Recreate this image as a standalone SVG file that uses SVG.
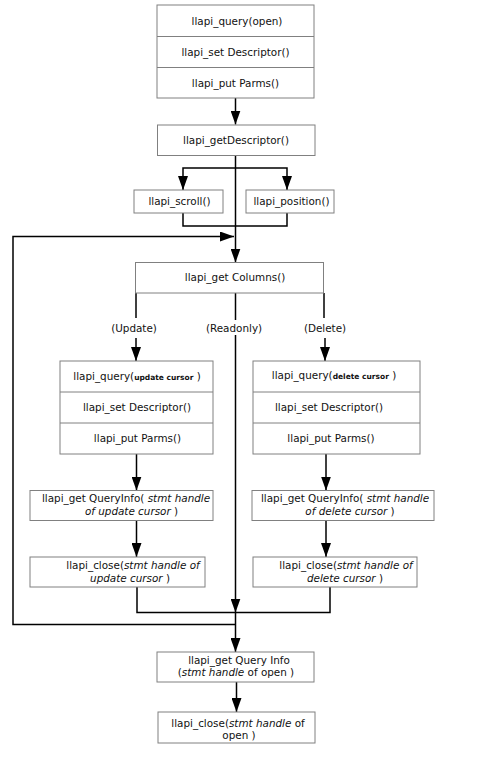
<svg xmlns="http://www.w3.org/2000/svg" width="480" height="761" viewBox="0 0 480 761">
<style>
.box{fill:#fff;stroke:#808080;stroke-width:1}
.div{stroke:#808080;stroke-width:1}
.t{font-family:"DejaVu Sans",sans-serif;font-size:10.4px;fill:#111;text-anchor:middle}
.it{font-style:italic}
.sm{font-size:7.5px;font-weight:bold}
.c{fill:none;stroke:#000;stroke-width:1.5}
</style>
<defs>
<marker id="ah" markerUnits="userSpaceOnUse" markerWidth="14" markerHeight="10" refX="14" refY="5" orient="auto" viewBox="0 0 14 10">
<path d="M0,0 L14,5 L0,10 z" fill="#000"/>
</marker>
</defs>
<rect width="480" height="761" fill="#fff"/>
<g id="connectors">
<path class="c" d="M235.5,98 V124.5" marker-end="url(#ah)"/>
<path class="c" d="M235.5,155.5 V262.5" marker-end="url(#ah)"/>
<path class="c" d="M235.5,168 H183 V190" marker-end="url(#ah)"/>
<path class="c" d="M235.5,168 H287 V190" marker-end="url(#ah)"/>
<path class="c" d="M183,213 V226 H287 V213"/>
<path class="c" d="M235.5,624.5 H13 V236.5 H234" marker-end="url(#ah)"/>
<path class="c" d="M136,293 V318"/>
<path class="c" d="M136,338 V361" marker-end="url(#ah)"/>
<path class="c" d="M235.5,293 V320"/>
<path class="c" d="M235.5,335 V612.5" marker-end="url(#ah)"/>
<path class="c" d="M324,293 V318"/>
<path class="c" d="M325,338 V361" marker-end="url(#ah)"/>
<path class="c" d="M136.5,454 V490.5" marker-end="url(#ah)"/>
<path class="c" d="M136.5,520 V557" marker-end="url(#ah)"/>
<path class="c" d="M326,454 V490.5" marker-end="url(#ah)"/>
<path class="c" d="M326,520 V557" marker-end="url(#ah)"/>
<path class="c" d="M137,587 V612.5 H330 V587"/>
<path class="c" d="M235.5,612.5 V652" marker-end="url(#ah)"/>
<path class="c" d="M236.5,682 V712" marker-end="url(#ah)"/>
</g>
<g id="open-query">
<rect class="box" x="157" y="5" width="157" height="93"/>
<line class="div" x1="157" y1="36.5" x2="314" y2="36.5"/>
<line class="div" x1="157" y1="67.5" x2="314" y2="67.5"/>
<text class="t" x="237" y="24.5">llapi_query(open)</text>
<text class="t" x="235.5" y="55.5">llapi_set Descriptor()</text>
<text class="t" x="235.5" y="86.5">llapi_put Parms()</text>
</g>
<g id="getDescriptor">
<rect class="box" x="157.5" y="125" width="157.5" height="30.5"/>
<text class="t" x="236" y="143.5">llapi_getDescriptor()</text>
</g>
<g id="scroll">
<rect class="box" x="134" y="190" width="89" height="23"/>
<text class="t" x="179.5" y="204.5">llapi_scroll()</text>
</g>
<g id="position">
<rect class="box" x="246" y="190" width="88" height="23"/>
<text class="t" x="291.5" y="204.5">llapi_position()</text>
</g>
<g id="getColumns">
<rect class="box" x="135.5" y="262.5" width="188" height="30.5"/>
<text class="t" x="235" y="280.5">llapi_get Columns()</text>
</g>
<g id="labels">
<text class="t" x="134" y="331.5">(Update)</text>
<text class="t" x="234" y="331.5">(Readonly)</text>
<text class="t" x="325" y="331.5">(Delete)</text>
</g>
<g id="update-query">
<rect class="box" x="60" y="361" width="153" height="93"/>
<line class="div" x1="60" y1="392" x2="213" y2="392"/>
<line class="div" x1="60" y1="423" x2="213" y2="423"/>
<text class="t" x="137" y="380">llapi_query(<tspan class="sm">update cursor</tspan> )</text>
<text class="t" x="137" y="411">llapi_set Descriptor()</text>
<text class="t" x="137.5" y="442">llapi_put Parms()</text>
</g>
<g id="update-info">
<rect class="box" x="30" y="490.5" width="183" height="30"/>
<text class="t" x="126" y="502">llapi_get QueryInfo( <tspan class="it">stmt handle</tspan></text>
<text class="t it" x="131.5" y="515">of update cursor<tspan font-style="normal"> )</tspan></text>
</g>
<g id="update-close">
<rect class="box" x="30" y="557" width="175" height="30"/>
<text class="t" x="133" y="568.5">llapi_close(<tspan class="it">stmt handle of</tspan></text>
<text class="t it" x="130" y="581.5">update cursor<tspan font-style="normal"> )</tspan></text>
</g>
<g id="delete-query">
<rect class="box" x="253" y="361" width="167" height="93"/>
<line class="div" x1="253" y1="392" x2="420" y2="392"/>
<line class="div" x1="253" y1="423" x2="420" y2="423"/>
<text class="t" x="334" y="379">llapi_query(<tspan class="sm">delete cursor</tspan> )</text>
<text class="t" x="329" y="411">llapi_set Descriptor()</text>
<text class="t" x="331" y="442">llapi_put Parms()</text>
</g>
<g id="delete-info">
<rect class="box" x="252" y="490.5" width="182" height="30"/>
<text class="t" x="345" y="502">llapi_get QueryInfo( <tspan class="it">stmt handle</tspan></text>
<text class="t it" x="350" y="515">of delete cursor<tspan font-style="normal"> )</tspan></text>
</g>
<g id="delete-close">
<rect class="box" x="253" y="557" width="164" height="30"/>
<text class="t" x="346" y="568.5">llapi_close(<tspan class="it">stmt handle of</tspan></text>
<text class="t it" x="345" y="581.5">delete cursor<tspan font-style="normal"> )</tspan></text>
</g>
<g id="open-info">
<rect class="box" x="157" y="652" width="157" height="30"/>
<text class="t" x="239" y="663.5">llapi_get Query Info</text>
<text class="t" x="236" y="675.5">(<tspan class="it">stmt handle</tspan> of open )</text>
</g>
<g id="open-close">
<rect class="box" x="158" y="712" width="157" height="31"/>
<text class="t" x="238" y="726.5">llapi_close(<tspan class="it">stmt handle</tspan> of</text>
<text class="t" x="239" y="738.5">open )</text>
</g>
</svg>
